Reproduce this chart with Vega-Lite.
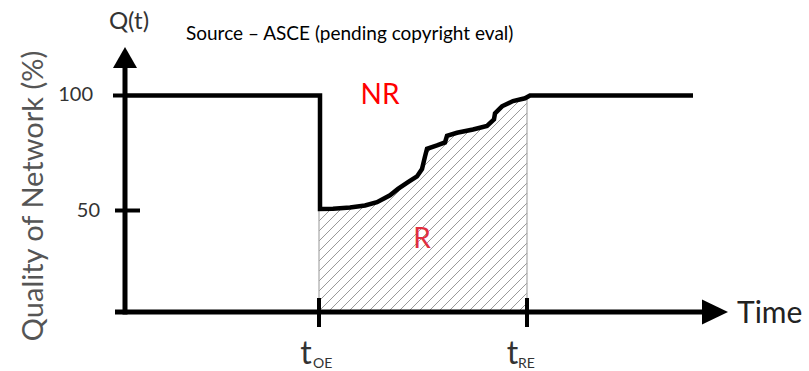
{
  "$schema": "https://vega.github.io/schema/vega-lite/v6.json",
  "width": 809,
  "height": 371,
  "padding": 0,
  "autosize": "none",
  "background": "white",
  "config": {"view": {"stroke": null}, "font": "Lato"},
  "datasets": {
    "curve": [
      {"i": 0, "t": 0, "Q": 100},
      {"i": 1, "t": 19.5, "Q": 100},
      {"i": 2, "t": 19.5, "Q": 50.7},
      {"i": 3, "t": 20.8, "Q": 50.8},
      {"i": 4, "t": 22.5, "Q": 51.3},
      {"i": 5, "t": 24.0, "Q": 52.2},
      {"i": 6, "t": 25.2, "Q": 53.6},
      {"i": 7, "t": 26.5, "Q": 56.6},
      {"i": 8, "t": 27.3, "Q": 59.4},
      {"i": 9, "t": 28.3, "Q": 62.3},
      {"i": 10, "t": 29.2, "Q": 64.8},
      {"i": 11, "t": 29.7, "Q": 68.0},
      {"i": 12, "t": 30.0, "Q": 73.5},
      {"i": 13, "t": 30.2, "Q": 76.8},
      {"i": 14, "t": 31.2, "Q": 78.3},
      {"i": 15, "t": 32.0, "Q": 79.6},
      {"i": 16, "t": 32.2, "Q": 82.5},
      {"i": 17, "t": 33.2, "Q": 83.8},
      {"i": 18, "t": 34.8, "Q": 85.2},
      {"i": 19, "t": 36.2, "Q": 86.8},
      {"i": 20, "t": 36.9, "Q": 89.6},
      {"i": 21, "t": 37.0, "Q": 92.2},
      {"i": 22, "t": 37.7, "Q": 95.3},
      {"i": 23, "t": 38.8, "Q": 97.6},
      {"i": 24, "t": 40.0, "Q": 98.8},
      {"i": 25, "t": 40.5, "Q": 100},
      {"i": 26, "t": 56.8, "Q": 100}
    ],
    "hatch": [
      {"t": 19.4, "Q": 49.78, "t2": 30.95, "Q2": 100},
      {"t": 19.4, "Q": 45.43, "t2": 31.95, "Q2": 100},
      {"t": 19.4, "Q": 41.09, "t2": 32.95, "Q2": 100},
      {"t": 19.4, "Q": 36.74, "t2": 33.95, "Q2": 100},
      {"t": 19.4, "Q": 32.39, "t2": 34.95, "Q2": 100},
      {"t": 19.4, "Q": 28.04, "t2": 35.95, "Q2": 100},
      {"t": 19.4, "Q": 23.70, "t2": 36.95, "Q2": 100},
      {"t": 19.4, "Q": 19.35, "t2": 37.95, "Q2": 100},
      {"t": 19.4, "Q": 15.00, "t2": 38.95, "Q2": 100},
      {"t": 19.4, "Q": 10.65, "t2": 39.95, "Q2": 100},
      {"t": 19.4, "Q": 6.30, "t2": 40.2, "Q2": 96.74},
      {"t": 20.3, "Q": 5.87, "t2": 40.2, "Q2": 92.39},
      {"t": 21.3, "Q": 5.87, "t2": 40.2, "Q2": 88.04},
      {"t": 22.3, "Q": 5.87, "t2": 40.2, "Q2": 83.70},
      {"t": 23.3, "Q": 5.87, "t2": 40.2, "Q2": 79.35},
      {"t": 24.3, "Q": 5.87, "t2": 40.2, "Q2": 75.00},
      {"t": 25.3, "Q": 5.87, "t2": 40.2, "Q2": 70.65},
      {"t": 26.3, "Q": 5.87, "t2": 40.2, "Q2": 66.30},
      {"t": 27.3, "Q": 5.87, "t2": 40.2, "Q2": 61.96},
      {"t": 28.3, "Q": 5.87, "t2": 40.2, "Q2": 57.61},
      {"t": 29.3, "Q": 5.87, "t2": 40.2, "Q2": 53.26},
      {"t": 30.3, "Q": 5.87, "t2": 40.2, "Q2": 48.91},
      {"t": 31.3, "Q": 5.87, "t2": 40.2, "Q2": 44.57},
      {"t": 32.3, "Q": 5.87, "t2": 40.2, "Q2": 40.22},
      {"t": 33.3, "Q": 5.87, "t2": 40.2, "Q2": 35.87},
      {"t": 34.3, "Q": 5.87, "t2": 40.2, "Q2": 31.52},
      {"t": 35.3, "Q": 5.87, "t2": 40.2, "Q2": 27.17},
      {"t": 36.3, "Q": 5.87, "t2": 40.2, "Q2": 22.83},
      {"t": 37.3, "Q": 5.87, "t2": 40.2, "Q2": 18.48},
      {"t": 38.3, "Q": 5.87, "t2": 40.2, "Q2": 14.13},
      {"t": 39.3, "Q": 5.87, "t2": 40.2, "Q2": 9.78}
    ],
    "guides": [
      {"t": 19.4, "Q": 5.87, "t2": 19.4, "Q2": 50.7},
      {"t": 40.2, "Q": 5.87, "t2": 40.2, "Q2": 100}
    ],
    "axes": [
      {"t": 0, "Q": 4.8, "t2": 0, "Q2": 115},
      {"t": -1.0, "Q": 5.87, "t2": 58, "Q2": 5.87}
    ],
    "ticks": [
      {"t": -1.2, "Q": 100, "t2": 0, "Q2": 100},
      {"t": -1.0, "Q": 50, "t2": 1.5, "Q2": 50},
      {"t": 19.4, "Q": -0.65, "t2": 19.4, "Q2": 11.96},
      {"t": 40.2, "Q": -0.65, "t2": 40.2, "Q2": 11.96}
    ],
    "yarrow": [{"t": 0, "Q": 116.52}],
    "xarrow": [{"t": 59.0, "Q": 5.87}],
    "tlabels": [
      {"t": 18.1, "Q": -16.74, "label": "t"},
      {"t": 38.75, "Q": -16.74, "label": "t"}
    ],
    "subs": [
      {"t": 18.8, "Q": -18.5, "label": "OE"},
      {"t": 39.3, "Q": -18.5, "label": "RE"}
    ],
    "ylabels": [
      {"t": -3.2, "Q": 100, "label": "100"},
      {"t": -2.5, "Q": 50, "label": "50"}
    ]
  },
  "layer": [
    {
      "data": {"name": "hatch"},
      "mark": {"type": "rule", "color": "#9a9a9a", "strokeWidth": 1},
      "encoding": {
        "x": {"field": "t", "type": "quantitative", "scale": {"domain": [-12.5, 68.4]}, "axis": null},
        "y": {"field": "Q", "type": "quantitative", "scale": {"domain": [-19.78, 141.52]}, "axis": null},
        "x2": {"field": "t2"},
        "y2": {"field": "Q2"}
      }
    },
    {
      "data": {"name": "curve"},
      "transform": [{"filter": "datum.i >= 2 && datum.i <= 25"}],
      "mark": {"type": "area", "color": "white", "opacity": 1},
      "encoding": {
        "x": {"field": "t", "type": "quantitative", "scale": {"domain": [-12.5, 68.4]}, "axis": null},
        "y": {"field": "Q", "type": "quantitative", "scale": {"domain": [-19.78, 141.52]}, "axis": null},
        "y2": {"datum": 102}
      }
    },
    {
      "data": {"name": "guides"},
      "mark": {"type": "rule", "color": "#a8a8a8", "strokeWidth": 1.2},
      "encoding": {
        "x": {"field": "t", "type": "quantitative", "scale": {"domain": [-12.5, 68.4]}, "axis": null},
        "y": {"field": "Q", "type": "quantitative", "scale": {"domain": [-19.78, 141.52]}, "axis": null},
        "x2": {"field": "t2"},
        "y2": {"field": "Q2"}
      }
    },
    {
      "data": {"name": "axes"},
      "mark": {"type": "rule", "color": "black", "strokeWidth": 5},
      "encoding": {
        "x": {"field": "t", "type": "quantitative", "scale": {"domain": [-12.5, 68.4]}, "axis": null},
        "y": {"field": "Q", "type": "quantitative", "scale": {"domain": [-19.78, 141.52]}, "axis": null},
        "x2": {"field": "t2"},
        "y2": {"field": "Q2"}
      }
    },
    {
      "data": {"name": "ticks"},
      "mark": {"type": "rule", "color": "black", "strokeWidth": 4},
      "encoding": {
        "x": {"field": "t", "type": "quantitative", "scale": {"domain": [-12.5, 68.4]}, "axis": null},
        "y": {"field": "Q", "type": "quantitative", "scale": {"domain": [-19.78, 141.52]}, "axis": null},
        "x2": {"field": "t2"},
        "y2": {"field": "Q2"}
      }
    },
    {
      "data": {"name": "curve"},
      "mark": {"type": "line", "color": "black", "strokeWidth": 4.5, "strokeJoin": "miter", "strokeCap": "butt"},
      "encoding": {
        "x": {"field": "t", "type": "quantitative", "scale": {"domain": [-12.5, 68.4]}, "axis": null},
        "y": {"field": "Q", "type": "quantitative", "scale": {"domain": [-19.78, 141.52]}, "axis": null},
        "order": {"field": "i", "type": "quantitative"}
      }
    },
    {
      "data": {"name": "yarrow"},
      "mark": {"type": "point", "shape": "M0,-0.875L1,0.875L-1,0.875Z", "size": 576, "filled": true, "color": "black", "opacity": 1},
      "encoding": {
        "x": {"field": "t", "type": "quantitative", "scale": {"domain": [-12.5, 68.4]}, "axis": null},
        "y": {"field": "Q", "type": "quantitative", "scale": {"domain": [-19.78, 141.52]}, "axis": null}
      }
    },
    {
      "data": {"name": "xarrow"},
      "mark": {"type": "point", "shape": "M-1,-0.96L1,0L-1,0.96Z", "size": 676, "filled": true, "color": "black", "opacity": 1},
      "encoding": {
        "x": {"field": "t", "type": "quantitative", "scale": {"domain": [-12.5, 68.4]}, "axis": null},
        "y": {"field": "Q", "type": "quantitative", "scale": {"domain": [-19.78, 141.52]}, "axis": null}
      }
    },
    {
      "data": {"name": "ylabels"},
      "mark": {"type": "text", "align": "right", "baseline": "middle", "fontSize": 20, "color": "#333"},
      "encoding": {
        "x": {"field": "t", "type": "quantitative", "scale": {"domain": [-12.5, 68.4]}, "axis": null},
        "y": {"field": "Q", "type": "quantitative", "scale": {"domain": [-19.78, 141.52]}, "axis": null},
        "text": {"field": "label"}
      }
    },
    {
      "data": {"name": "tlabels"},
      "mark": {"type": "text", "align": "center", "baseline": "alphabetic", "fontSize": 32, "color": "#333"},
      "encoding": {
        "x": {"field": "t", "type": "quantitative", "scale": {"domain": [-12.5, 68.4]}, "axis": null},
        "y": {"field": "Q", "type": "quantitative", "scale": {"domain": [-19.78, 141.52]}, "axis": null},
        "text": {"field": "label"}
      }
    },
    {
      "data": {"name": "subs"},
      "mark": {"type": "text", "align": "left", "baseline": "alphabetic", "fontSize": 14, "color": "#333"},
      "encoding": {
        "x": {"field": "t", "type": "quantitative", "scale": {"domain": [-12.5, 68.4]}, "axis": null},
        "y": {"field": "Q", "type": "quantitative", "scale": {"domain": [-19.78, 141.52]}, "axis": null},
        "text": {"field": "label"}
      }
    },
    {
      "data": {"values": [{"t": 0.4, "Q": 132, "label": "Q(t)"}]},
      "mark": {"type": "text", "align": "center", "baseline": "middle", "fontSize": 24, "color": "#333"},
      "encoding": {
        "x": {"field": "t", "type": "quantitative", "scale": {"domain": [-12.5, 68.4]}, "axis": null},
        "y": {"field": "Q", "type": "quantitative", "scale": {"domain": [-19.78, 141.52]}, "axis": null},
        "text": {"field": "label"}
      }
    },
    {
      "data": {"values": [{"t": 6.1, "Q": 126.7, "label": "Source – ASCE (pending copyright eval)"}]},
      "mark": {"type": "text", "align": "left", "baseline": "middle", "fontSize": 19, "color": "black"},
      "encoding": {
        "x": {"field": "t", "type": "quantitative", "scale": {"domain": [-12.5, 68.4]}, "axis": null},
        "y": {"field": "Q", "type": "quantitative", "scale": {"domain": [-19.78, 141.52]}, "axis": null},
        "text": {"field": "label"}
      }
    },
    {
      "data": {"values": [{"t": -9.1, "Q": 56.3, "label": "Quality of Network (%)"}]},
      "mark": {"type": "text", "align": "center", "baseline": "middle", "angle": 270, "fontSize": 29, "color": "#555"},
      "encoding": {
        "x": {"field": "t", "type": "quantitative", "scale": {"domain": [-12.5, 68.4]}, "axis": null},
        "y": {"field": "Q", "type": "quantitative", "scale": {"domain": [-19.78, 141.52]}, "axis": null},
        "text": {"field": "label"}
      }
    },
    {
      "data": {"values": [{"t": 25.5, "Q": 99.8, "label": "NR"}]},
      "mark": {"type": "text", "align": "center", "baseline": "middle", "fontSize": 28, "color": "#ff0000"},
      "encoding": {
        "x": {"field": "t", "type": "quantitative", "scale": {"domain": [-12.5, 68.4]}, "axis": null},
        "y": {"field": "Q", "type": "quantitative", "scale": {"domain": [-19.78, 141.52]}, "axis": null},
        "text": {"field": "label"}
      }
    },
    {
      "data": {"values": [{"t": 29.7, "Q": 37.2, "label": "R"}]},
      "mark": {"type": "text", "align": "center", "baseline": "middle", "fontSize": 28, "color": "#e03040"},
      "encoding": {
        "x": {"field": "t", "type": "quantitative", "scale": {"domain": [-12.5, 68.4]}, "axis": null},
        "y": {"field": "Q", "type": "quantitative", "scale": {"domain": [-19.78, 141.52]}, "axis": null},
        "text": {"field": "label"}
      }
    },
    {
      "data": {"values": [{"t": 61.2, "Q": 5.0, "label": "Time"}]},
      "mark": {"type": "text", "align": "left", "baseline": "middle", "fontSize": 30, "color": "#222"},
      "encoding": {
        "x": {"field": "t", "type": "quantitative", "scale": {"domain": [-12.5, 68.4]}, "axis": null},
        "y": {"field": "Q", "type": "quantitative", "scale": {"domain": [-19.78, 141.52]}, "axis": null},
        "text": {"field": "label"}
      }
    }
  ]
}
